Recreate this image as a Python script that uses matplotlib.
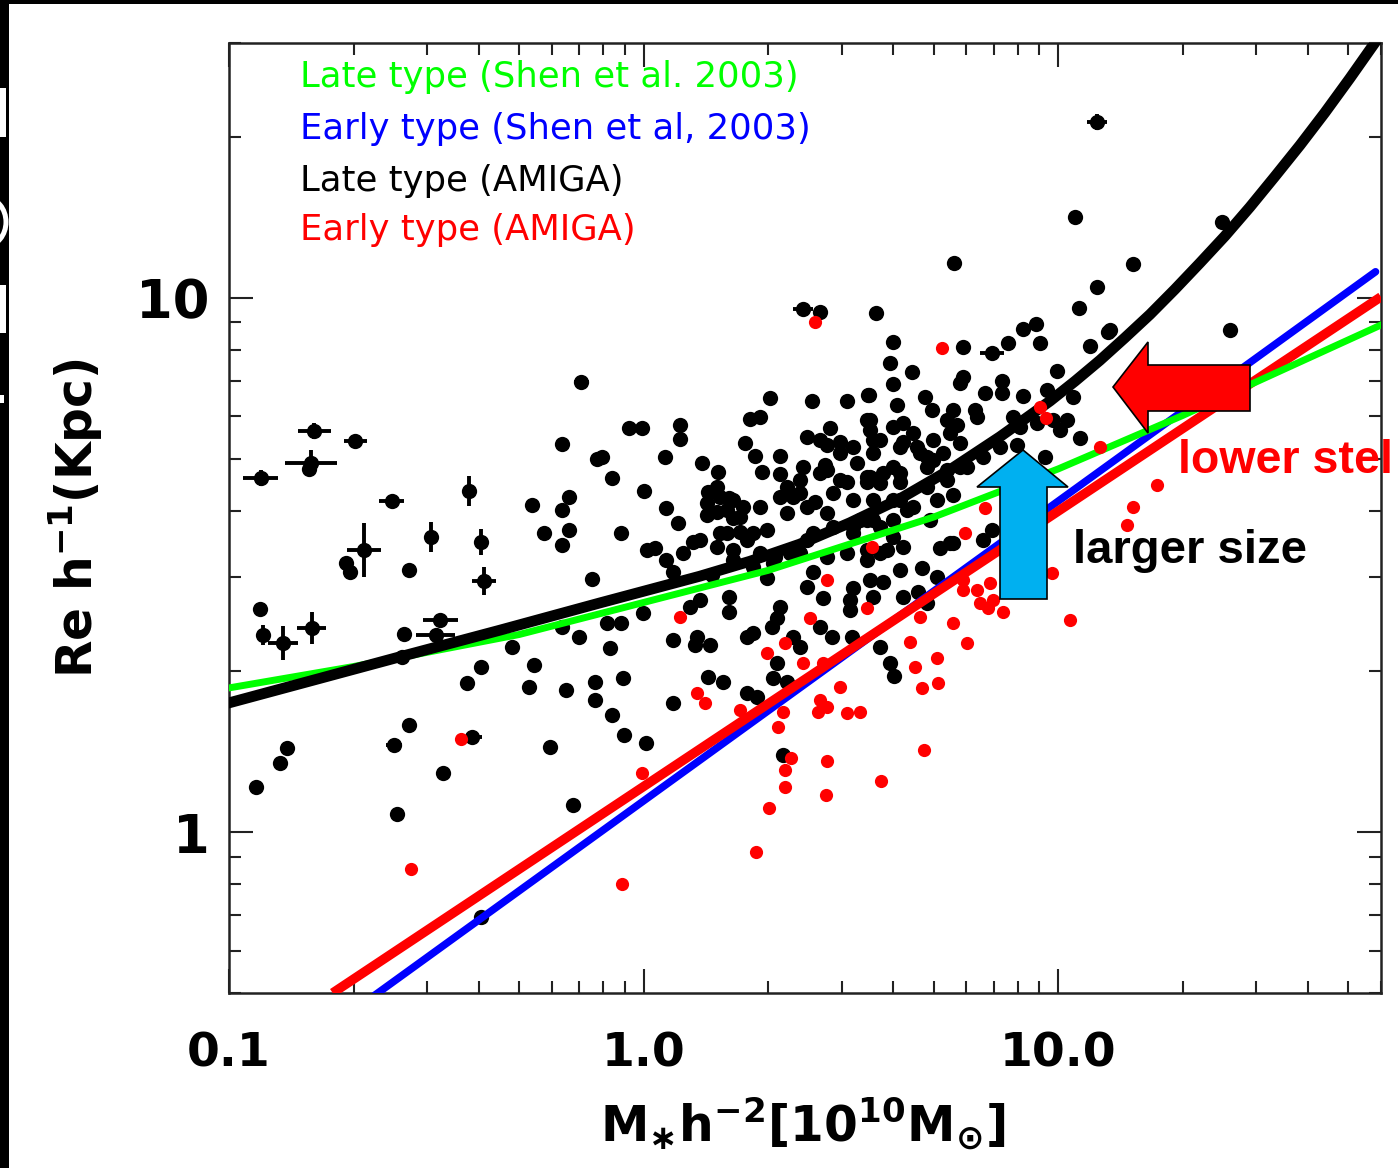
import numpy as np
import matplotlib
matplotlib.use("Agg")
import matplotlib.pyplot as plt
from matplotlib.patches import Polygon, Rectangle, Ellipse
from matplotlib.ticker import LogLocator, NullFormatter, FixedLocator, FixedFormatter

plt.rcParams["mathtext.default"] = "bf"

# ---------------------------------------------------------------------------
# Data: log10 stellar mass [1e10 Msun h^-2] and log10 Re [kpc h^-1]
# ---------------------------------------------------------------------------

# AMIGA late-type galaxies
late_logm = [
    -0.808, -0.719, -0.707, -0.567, -0.926, -0.579, -0.198, -0.113, -0.077, -0.036,
    -0.270, -0.241, -0.198, -0.181, -0.181, -0.198, -0.125, -0.055, -0.318, -0.265,
    -0.198, -0.157, -0.080, -0.089, -0.055, -0.393, -0.584, -0.934, -0.878, -0.859,
    -0.565, -0.596, -0.485, -0.425, -0.393, -0.277, -0.188, -0.118, -0.118, -0.077,
    -0.048, 0.005, -0.227, -0.051, -0.171, -0.101, -0.005, 0.087, 0.087, 0.051,
    0.140, 0.179, 0.002, 0.154, 0.055, 0.082, 0.207, 0.239, 0.176, 0.215,
    0.256, 0.280, 0.304, 0.405, 0.490, 0.543, 0.449, 0.393, 0.441, 0.473,
    0.545, 0.244, 0.268, 0.328, 0.285, 0.328, 0.384, 0.437, 0.473, 0.514,
    0.538, 0.345, 0.376, 0.328, 0.413, 0.441, 0.504, 0.552, 0.280, 0.521,
    0.118, 0.007, 0.152, 0.183, 0.232, 0.263, 0.215, 0.280, 0.316, 0.352,
    0.393, 0.441, 0.490, 0.538, 0.586, 0.504, 0.569, 0.070, 0.166, 0.297,
    0.408, 0.393, 0.504, 0.577, -0.002, 0.135, 0.207, 0.207, 0.111, 0.432,
    0.497, 0.552, 0.497, 0.328, 0.321, 0.309, 0.070, 0.123, 0.248, 0.263,
    0.359, 0.376, 0.425, 0.454, 0.502, 0.569, 0.321, 0.593, 0.154, 0.191,
    0.311, 0.345, 0.070, 0.248, 0.273, 0.335, 0.603, 0.027, 0.128, 0.159,
    0.425, 0.560, 0.748, 0.601, 0.770, 0.878, 0.914, 0.946, 0.955, 1.076,
    0.593, 0.647, 0.770, 0.864, 0.864, 0.996, 0.601, 0.540, 0.678, 0.823,
    0.914, 0.972, 0.610, 1.035, 0.545, 0.625, 0.695, 0.745, 0.799, 0.755,
    0.738, 0.803, 0.890, 0.987, 1.020, 1.052, 0.569, 0.625, 0.659, 0.552,
    0.683, 0.721, 0.762, 0.900, 0.967, 0.538, 0.601, 0.683, 0.731, 0.762,
    0.569, 0.618, 0.707, 0.745, 0.618, 0.634, 0.690, 0.538, 0.601, 0.625,
    0.818, 0.840, 0.714, 0.745, 0.538, 0.569, 0.618, 0.671, 0.707, 0.545,
    0.661, 0.625, 0.683, 0.762, 1.124, 0.948, 1.004, 0.738, 1.040, 1.394,
    1.180, 1.093, 1.049, 1.119, 1.414,
    # central crowd
    0.425, 0.473, 0.441, 0.490, 0.359, 0.183, 0.200, 0.232, 0.545, 0.152,
    0.176, 0.215, 0.200, 0.248, 0.297, 0.345, 0.393, 0.376, 0.425, 0.456,
    0.504, 0.552, 0.538, 0.601, 0.618, 0.649, 0.666, 0.697, 0.731, 0.697,
    0.577, 0.618, 0.601, 0.408, 0.456, 0.376, 0.311, 0.263, 0.215, 0.176,
    0.135, 0.094, 0.055, 0.504, 0.552, 0.601, 0.649, 0.683, 0.731, 0.779,
    0.818, 0.859, 0.907,
]
late_logr = [
    0.680, 0.504, 0.487, 0.491, 0.418, 0.371, 0.727, 0.699, 0.663, 0.757,
    0.612, 0.560, 0.603, 0.627, 0.566, 0.537, 0.474, 0.560, 0.346, 0.313,
    0.384, 0.365, 0.345, 0.391, 0.391, 0.309, 0.328, 0.084, 0.129, 0.157,
    0.200, 0.034, 0.110, 0.279, -0.159, 0.272, 0.266, 0.281, 0.247, 0.219,
    0.182, 0.167, 0.159, 0.288, 0.051, 0.702, 0.757, 0.762, 0.736, 0.702,
    0.691, 0.674, 0.639, 0.637, 0.607, 0.579, 0.625, 0.609, 0.599, 0.588,
    0.773, 0.777, 0.813, 0.807, 0.807, 0.818, 0.757, 0.740, 0.725, 0.730,
    0.753, 0.728, 0.704, 0.704, 0.674, 0.670, 0.684, 0.687, 0.659, 0.691,
    0.655, 0.646, 0.635, 0.627, 0.618, 0.597, 0.622, 0.622, 0.609, 0.584,
    0.543, 0.528, 0.594, 0.560, 0.562, 0.560, 0.528, 0.522, 0.515, 0.522,
    0.547, 0.515, 0.522, 0.509, 0.528, 0.571, 0.571, 0.487, 0.481, 0.476,
    0.487, 0.459, 0.457, 0.468, 0.410, 0.434, 0.440, 0.412, 0.421, 0.438,
    0.434, 0.440, 0.416, 0.421, 0.401, 0.384, 0.360, 0.350, 0.365, 0.373,
    0.365, 0.346, 0.384, 0.365, 0.365, 0.346, 0.316, 0.316, 0.290, 0.281,
    0.288, 0.281, 0.242, 0.260, 0.253, 0.144, 0.292, 0.532, 0.365, 0.350,
    0.974, 0.972, 1.066, 0.918, 0.908, 0.916, 0.942, 0.951, 0.916, 0.910,
    0.878, 0.861, 0.852, 0.845, 0.822, 0.863, 0.839, 0.818, 0.815, 0.822,
    0.816, 0.828, 0.800, 0.815, 0.772, 0.766, 0.790, 0.790, 0.790, 0.762,
    0.747, 0.777, 0.777, 0.772, 0.772, 0.738, 0.734, 0.730, 0.721, 0.710,
    0.702, 0.710, 0.728, 0.725, 0.702, 0.665, 0.684, 0.684, 0.678, 0.684,
    0.654, 0.655, 0.622, 0.631, 0.622, 0.603, 0.584, 0.584, 0.552, 0.534,
    0.547, 0.566, 0.532, 0.541, 0.528, 0.522, 0.491, 0.494, 0.478, 0.472,
    0.449, 0.440, 0.429, 0.841, 0.940, 0.766, 0.753, 0.541, 1.152, 1.142,
    1.064, 1.021, 0.981, 0.936, 0.940,
    # central crowd
    0.734, 0.710, 0.678, 0.655, 0.627, 0.627, 0.603, 0.590, 0.665, 0.616,
    0.646, 0.622, 0.560, 0.547, 0.566, 0.597, 0.609, 0.659, 0.672, 0.635,
    0.721, 0.734, 0.772, 0.758, 0.721, 0.747, 0.710, 0.734, 0.772, 0.697,
    0.672, 0.672, 0.622, 0.560, 0.571, 0.522, 0.504, 0.496, 0.509, 0.534,
    0.547, 0.522, 0.509, 0.560, 0.584, 0.584, 0.609, 0.646, 0.659, 0.684,
    0.702, 0.721, 0.758,
]

# AMIGA late-type galaxies plotted with their uncertainties (dex)
late_bar_logm = [-0.924, -0.794, -0.803, -0.695, -0.608, -0.422, -0.675, -0.514,
                 -0.393, -0.384, -0.917, -0.869, -0.801, -0.490, -0.502, -0.150,
                 -0.603, -0.415, 0.384, 0.840, 1.093]
late_bar_logr = [0.663, 0.751, 0.691, 0.732, 0.620, 0.639, 0.528, 0.552,
                 0.543, 0.470, 0.369, 0.354, 0.382, 0.397, 0.369, 0.843,
                 0.163, 0.178, 0.979, 0.897, 1.330]
late_bar_xerr = [0.043, 0.039, 0.063, 0.027, 0.031, 0.006, 0.041, 0.006,
                 0.006, 0.029, 0.006, 0.036, 0.034, 0.043, 0.046, 0.019,
                 0.019, 0.024, 0.024, 0.029, 0.024]
late_bar_yerr = [0.015, 0.015, 0.024, 0.006, 0.006, 0.028, 0.051, 0.028,
                 0.024, 0.026, 0.019, 0.032, 0.030, 0.006, 0.006, 0.006,
                 0.006, 0.006, 0.006, 0.006, 0.015]

# AMIGA early-type galaxies
early_logm = [
    0.413, 0.719, 0.955, 0.970, 1.100, 1.238, 1.180, 1.165, 0.774, 0.823,
    0.984, 0.770, 0.803, 0.770, 0.811, 0.835, 0.842, 0.830, 0.866, 1.028,
    0.538, 0.666, 0.745, 0.642, 0.779, 0.707, 0.654, 0.671, 0.709, 0.441,
    0.087, 0.400, 0.340, 0.297, 0.384, 0.432, 0.473, 0.128, 0.147, 0.425,
    0.441, 0.232, 0.335, 0.490, 0.521, 0.420, 0.323, 0.355, 0.340, 0.340,
    0.441, 0.439, 0.572, 0.302, 0.270, -0.053, -0.560, -0.441, -0.005, 0.676,
    0.550,
]
early_logr = [
    0.955, 0.906, 0.796, 0.775, 0.721, 0.650, 0.609, 0.575, 0.560, 0.607,
    0.485, 0.472, 0.453, 0.453, 0.429, 0.466, 0.434, 0.419, 0.412, 0.397,
    0.419, 0.403, 0.391, 0.356, 0.354, 0.326, 0.309, 0.270, 0.279, 0.472,
    0.403, 0.401, 0.354, 0.335, 0.316, 0.316, 0.272, 0.260, 0.242, 0.247,
    0.234, 0.228, 0.225, 0.223, 0.225, 0.225, 0.197, 0.139, 0.116, 0.084,
    0.133, 0.069, 0.096, 0.045, -0.037, -0.097, -0.069, 0.174, 0.110, 0.154,
    0.534,
]

# Size-mass relations (log10 M, log10 Re)
shen_late_logm = [-1.0, -0.7, -0.3, 0.0, 0.3, 0.7, 1.0, 1.3, 1.78]
shen_late_logr = [0.27, 0.31, 0.37, 0.43, 0.49, 0.59, 0.68, 0.78, 0.95]

shen_early_logm = [-0.65, 1.765]
shen_early_logr = [-0.306, 1.049]

amiga_late_logm = [-1.0, -0.589, -0.347, -0.106, 0.135, 0.256, 0.376, 0.497,
                   0.618, 0.738, 0.859, 0.980, 1.040, 1.100, 1.160, 1.221,
                   1.281, 1.341, 1.402, 1.462, 1.522, 1.583, 1.643, 1.703,
                   1.771]
amiga_late_logr = [0.242, 0.328, 0.378, 0.429, 0.479, 0.507, 0.539, 0.579,
                   0.624, 0.678, 0.740, 0.807, 0.844, 0.883, 0.925, 0.969,
                   1.016, 1.065, 1.116, 1.170, 1.227, 1.286, 1.347, 1.411,
                   1.486]

amiga_early_logm = [-0.75, 1.778]
amiga_early_logr = [-0.301, 1.002]

legend_labels = ["Late type (Shen et al. 2003)", "Early type (Shen et al, 2003)",
                 "Late type (AMIGA)", "Early type (AMIGA)"]
legend_colors = ["#00ff00", "#0000ff", "#000000", "#ff0000"]

x_ticks = [0.1, 1.0, 10.0]
x_ticklabels = ["0.1", "1.0", "10.0"]
y_ticks = [1, 10]
y_ticklabels = ["1", "10"]


def lin(v):
    return 10.0 ** np.asarray(v, dtype=float)


def log_err(logv, err):
    logv = np.asarray(logv, dtype=float)
    err = np.asarray(err, dtype=float)
    lo = 10 ** logv - 10 ** (logv - err)
    hi = 10 ** (logv + err) - 10 ** logv
    return np.vstack([lo, hi])


# ---------------------------------------------------------------------------
W, H = 1398, 1168
fig = plt.figure(figsize=(W / 100, H / 100), dpi=100)
fig.patch.set_facecolor("white")


def fpos(x, y):
    return (x / W, 1 - y / H)


ax = fig.add_axes([229 / W, 175 / H, 1152 / W, 950 / H])
ax.set_xscale("log")
ax.set_yscale("log")
ax.set_xlim(0.1, 60)
ax.set_ylim(0.5, 30)

# scatter points
ax.plot(lin(late_logm), lin(late_logr), "o", color="black", ms=11, mew=0, zorder=2)
ax.errorbar(lin(late_bar_logm), lin(late_bar_logr),
            xerr=log_err(late_bar_logm, late_bar_xerr),
            yerr=log_err(late_bar_logr, late_bar_yerr),
            fmt="o", color="black", ms=11, mew=0, elinewidth=2.8, capsize=0, zorder=2)

# relations
ax.plot(lin(shen_early_logm), lin(shen_early_logr), color="#0000ff", lw=5.4,
        solid_capstyle="round", zorder=3)
ax.plot(lin(amiga_early_logm), lin(amiga_early_logr), color="#ff0000", lw=6.8,
        solid_capstyle="butt", zorder=3.1)
ax.plot(lin(shen_late_logm), lin(shen_late_logr), color="#00ff00", lw=5.0,
        zorder=3.2)
ax.plot(lin(amiga_late_logm), lin(amiga_late_logr), color="black", lw=7.8,
        solid_joinstyle="round", zorder=3.3)

ax.plot(lin(early_logm), lin(early_logr), "o", color="#ff0000", ms=9.5, mew=0, zorder=4)

# axes styling
for sp in ax.spines.values():
    sp.set_linewidth(1.8)
    sp.set_color("#222222")

ax.xaxis.set_major_locator(FixedLocator(x_ticks))
ax.xaxis.set_major_formatter(FixedFormatter(x_ticklabels))
ax.yaxis.set_major_locator(FixedLocator(y_ticks))
ax.yaxis.set_major_formatter(FixedFormatter(y_ticklabels))
ax.xaxis.set_minor_locator(LogLocator(base=10, subs=np.arange(2, 10)))
ax.yaxis.set_minor_locator(LogLocator(base=10, subs=np.arange(2, 10)))
ax.xaxis.set_minor_formatter(NullFormatter())
ax.yaxis.set_minor_formatter(NullFormatter())
ax.tick_params(which="both", direction="in", top=True, right=True,
               color="#222222", width=1.5)
ax.tick_params(which="major", length=17)
ax.tick_params(which="minor", length=8.5)
ax.tick_params(axis="x", which="major", pad=28, labelsize=34)
ax.tick_params(axis="y", which="major", pad=14, labelsize=38)
for lab in ax.get_xticklabels() + ax.get_yticklabels():
    lab.set_fontweight("bold")

ax.set_xlabel(r"M$_{\ast}$h$^{-2}$[10$^{10}$M$_{\odot}$]", fontsize=35,
              fontweight="bold")
ax.xaxis.set_label_coords(0.498, -0.108)
ax.set_ylabel(r"Re h$^{-1}$(Kpc)", fontsize=35, fontweight="bold")
ax.yaxis.set_label_coords(-0.108, 0.5)

# legend text
legend_y = [0.964, 0.909, 0.855, 0.803]
for lab, col, yy in zip(legend_labels, legend_colors, legend_y):
    ax.text(0.0616, yy, lab, color=col, fontsize=25.5, va="center", ha="left",
            transform=ax.transAxes)

# annotation arrows
blue_arrow = [(1023, 450), (1068, 487), (1047, 487), (1047, 599),
              (1000, 599), (1000, 487), (977, 487)]
red_arrow = [(1113, 387), (1148, 342), (1148, 365), (1250, 365),
             (1250, 411), (1148, 411), (1148, 433)]
fig.add_artist(Polygon([fpos(*p) for p in blue_arrow], closed=True,
                       facecolor="#00b0f0", edgecolor="black", lw=1.2,
                       transform=fig.transFigure, zorder=5))
fig.add_artist(Polygon([fpos(*p) for p in red_arrow], closed=True,
                       facecolor="#ff0000", edgecolor="black", lw=1.2,
                       transform=fig.transFigure, zorder=5))

fig.text(1178 / W, 1 - 473 / H, "lower stel", color="#ff0000",
         fontsize=33.5, fontweight="bold", family="Liberation Sans",
         va="baseline", ha="left", zorder=6)
fig.text(1073 / W, 1 - 563 / H, "larger size", color="black",
         fontsize=34, fontweight="bold", family="Liberation Sans",
         va="baseline", ha="left", zorder=6)

# slide frame on the left and top edges
fig.add_artist(Rectangle((0, 0), 9 / W, 1, transform=fig.transFigure,
                         facecolor="black", edgecolor="none", zorder=0.5))
fig.add_artist(Rectangle((0, 1 - 4 / H), 1, 4 / H, transform=fig.transFigure,
                         facecolor="black", edgecolor="none", zorder=0.5))
for (y0, y1, w) in [(88, 137, 6), (285, 333, 6), (395, 403, 4)]:
    fig.add_artist(Rectangle((0, 1 - y1 / H), w / W, (y1 - y0) / H,
                             transform=fig.transFigure, facecolor="white",
                             edgecolor="none", zorder=0.6))
fig.add_artist(Ellipse(fpos(-14, 222), 40 / W, 48 / H, fill=False,
                       edgecolor="white", lw=3.6, transform=fig.transFigure,
                       zorder=0.6))

fig.savefig("out.png", dpi=100)
